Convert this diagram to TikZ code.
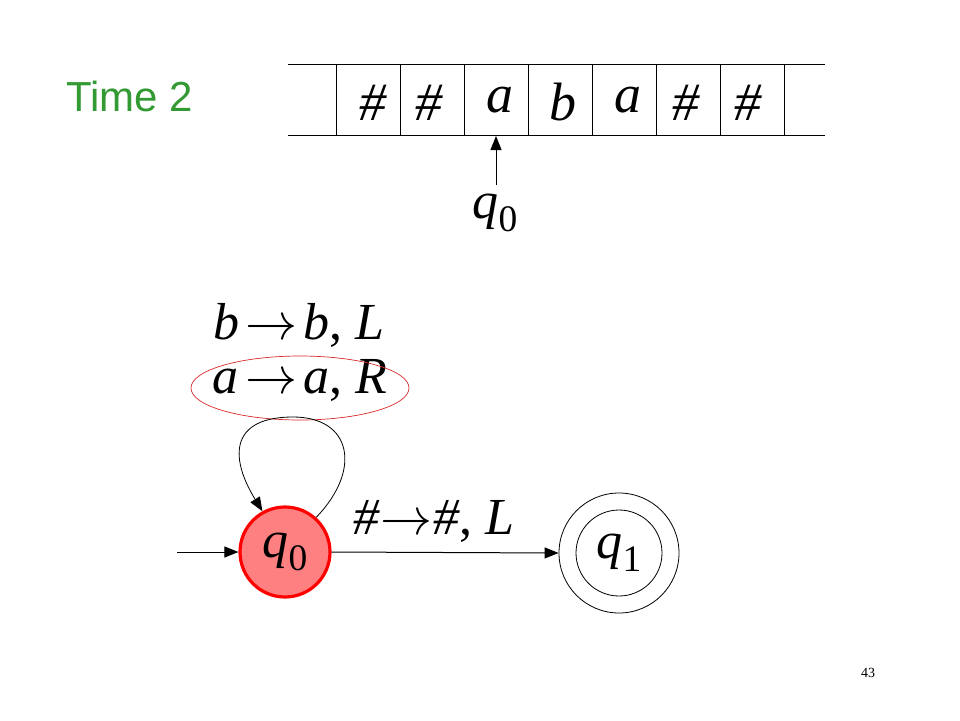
\documentclass[tikz,border=0pt]{standalone}
\usepackage{fontspec}
\setmainfont{Liberation Serif}
\newfontfamily\arialfont{Liberation Sans}
\usetikzlibrary{arrows.meta}
\definecolor{stateFill}{RGB}{255,128,128}
\definecolor{timeGreen}{RGB}{51,153,51}
\definecolor{loopRed}{RGB}{220,40,40}
\newcommand\qsub[1]{\textit{q}\raisebox{-0.25em}{\scalebox{0.72}{#1}}}
\newcommand\arr[1][0.12em]{\hspace{#1}{\fontsize{10}{12}\selectfont\scalebox{5.2}{$\rightarrow$}}\hspace{#1}}
\tikzset{
  tapesym/.style={font=\fontsize{54}{58}\selectfont\itshape, inner sep=0pt},
  lbl/.style={font=\fontsize{52}{56}\selectfont, inner sep=0pt},
  edge/.style={line width=1pt, -{Triangle[length=14pt,width=11pt]}},
  tapeline/.style={line width=1pt},
  startstate/.style={circle, draw=red, line width=3.2pt, fill=stateFill, minimum size=90pt, inner sep=0pt, font=\fontsize{52}{56}\selectfont},
  finalouter/.style={circle, draw, line width=0.8pt, minimum size=120pt, inner sep=0pt},
  finalinner/.style={circle, draw, line width=0.8pt, minimum size=86pt, inner sep=0pt, font=\fontsize{52}{56}\selectfont},
}
\begin{document}
\begin{tikzpicture}[x=1pt,y=-1pt]
\useasboundingbox (0,0) rectangle (960,720);
% Title
\node[anchor=west, text=timeGreen, font=\arialfont\fontsize{42}{46}\selectfont, inner sep=0pt] (title) at (66,96) {Time 2};
% Tape
\draw[tapeline] (288,64) -- (825,64);
\draw[tapeline] (288,135) -- (825,135);
\foreach \x in {336,400,464,528,592,656,720,784}
  \draw[tapeline] (\x,64) -- (\x,135);
\node[tapesym] (t1) at (373,103) {\#};
\node[tapesym] (t2) at (429,103) {\#};
\node[tapesym] (t3) at (500,100) {a};
\node[tapesym] (t4) at (563,102) {b};
\node[tapesym] (t5) at (628,100) {a};
\node[tapesym] (t6) at (686,103) {\#};
\node[tapesym] (t7) at (748,103) {\#};
% Head
\coordinate (cellA) at (496,136);
\node[inner sep=0pt, font=\fontsize{52}{56}\selectfont] (head) at (495,213) {\qsub{0}};
\draw[edge] (496,185) -- (cellA);
% Loop labels
\node[lbl] (lblb) at (299,325) {\textit{b}\arr\textit{b}, \textit{L}};
\node[lbl] (lbla) at (300,380) {\textit{a}\arr\textit{a}, \textit{R}};
\draw[loopRed, line width=0.7pt] (300,388) ellipse [x radius=109, y radius=32];
% States
\node[startstate] (q0) at (285,552) {\qsub{0}};
\node[finalouter] (q1o) at (619,553) {};
\node[finalinner] (q1) at (619,553) {\qsub{1}};
% Initial arrow
\coordinate (init) at (177,552);
\draw[edge] (init) -- (q0.west);
% Transition q0 -> q1
\draw[edge] (q0.east) -- (q1o.west);
\node[lbl] (lblh) at (434,521) {\textit{\#}\arr[0.02em]\textit{\#}, \textit{L}};
% Self loop
\draw[edge, line width=0.8pt] (q0.48) .. controls (362,470) and (352,417) .. (293,417)
   .. controls (232,417) and (228,455) .. (q0.119);
% Page number
\node[font=\fontsize{14}{16}\selectfont, inner sep=0pt] (page) at (868,673) {43};
\end{tikzpicture}
\end{document}
